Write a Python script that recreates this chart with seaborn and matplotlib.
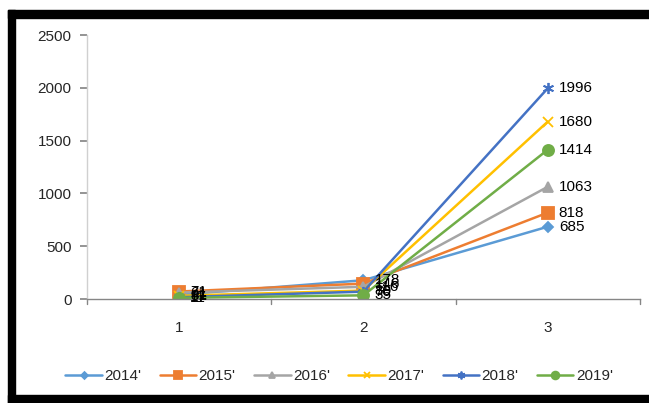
import matplotlib
matplotlib.use("Agg")
import matplotlib.pyplot as plt
import seaborn as sns
import pandas as pd
from matplotlib.patches import Rectangle

# Categories on the x axis
categories = [1, 2, 3]

# Series values per year
years = ["2014'", "2015'", "2016'", "2017'", "2018'", "2019'"]
v2014 = [41, 178, 685]
v2015 = [71, 146, 818]
v2016 = [61, 116, 1063]
v2017 = [31, 80, 1680]
v2018 = [17, 70, 1996]
v2019 = [11, 35, 1414]
series = [v2014, v2015, v2016, v2017, v2018, v2019]

y_ticks = [0, 500, 1000, 1500, 2000, 2500]

colors = ["#5B9BD5", "#ED7D31", "#A5A5A5", "#FFC000", "#4472C4", "#70AD47"]
markers = ["D", "s", "^", "x", (6, 2, 0), "o"]
msizes = [5, 8, 7, 7, 8, 8]

rows = []
for yr, vals in zip(years, series):
    for c, v in zip(categories, vals):
        rows.append({"cat": c, "value": v, "year": yr})
df = pd.DataFrame(rows)

sns.set_theme(style="white")
plt.rcParams["font.family"] = ["Liberation Sans", "DejaVu Sans"]

fig = plt.figure(figsize=(6.49, 4.03), dpi=100)
ax = fig.add_axes([0.134, 0.258, 0.852, 0.655])

for yr, col, mk, ms in zip(years, colors, markers, msizes):
    sub = df[df["year"] == yr]
    sns.lineplot(data=sub, x="cat", y="value", ax=ax, color=col, marker=mk,
                 markersize=ms, markeredgecolor=col, markeredgewidth=1.3,
                 linewidth=1.8, label=yr)
    for c, v in zip(sub["cat"], sub["value"]):
        ax.annotate(str(v), (c, v), xytext=(8, 0), textcoords="offset points",
                    va="center", ha="left", fontsize=11, color="black")

ax.set_xlim(0.5, 3.5)
ax.set_ylim(0, 2500)
ax.set_yticks(y_ticks)
ax.set_yticklabels([str(t) for t in y_ticks])
ax.set_xticks(categories)
ax.set_xticklabels([str(c) for c in categories])
ax.set_xlabel("")
ax.set_ylabel("")

for s in ["top", "right"]:
    ax.spines[s].set_visible(False)
ax.spines["left"].set_color("#D0D0D0")
ax.spines["bottom"].set_color("#868686")
ax.spines["left"].set_linewidth(1)
ax.spines["bottom"].set_linewidth(1)

ax.tick_params(axis="y", left=True, length=5, color="#868686", labelsize=11, pad=6)
ax.tick_params(axis="x", bottom=False, labelsize=11, pad=10)
# category boundary tick marks
for xb in [0.5, 1.5, 2.5, 3.5]:
    ax.plot([xb, xb], [0, -0.02], transform=ax.get_xaxis_transform(),
            color="#868686", lw=1, clip_on=False)

leg = ax.legend(loc="center", bbox_to_anchor=(0.456, -0.292), ncol=6, frameon=False,
                fontsize=11, handlelength=2.4, columnspacing=1.2, handletextpad=0.15,
                markerscale=0.7, borderpad=0, borderaxespad=0)

# thick outer frame
black = "black"
fig.patches.append(Rectangle((8 / 649, 1 - 18 / 403), 1, 8 / 403, transform=fig.transFigure,
                             color=black, zorder=10))
fig.patches.append(Rectangle((8 / 649, 0), 7 / 649, 1 - 10 / 403, transform=fig.transFigure,
                             color=black, zorder=10))
fig.patches.append(Rectangle((8 / 649, 0), 1, 8 / 403, transform=fig.transFigure,
                             color=black, zorder=10))

fig.savefig("out.png", dpi=100)
